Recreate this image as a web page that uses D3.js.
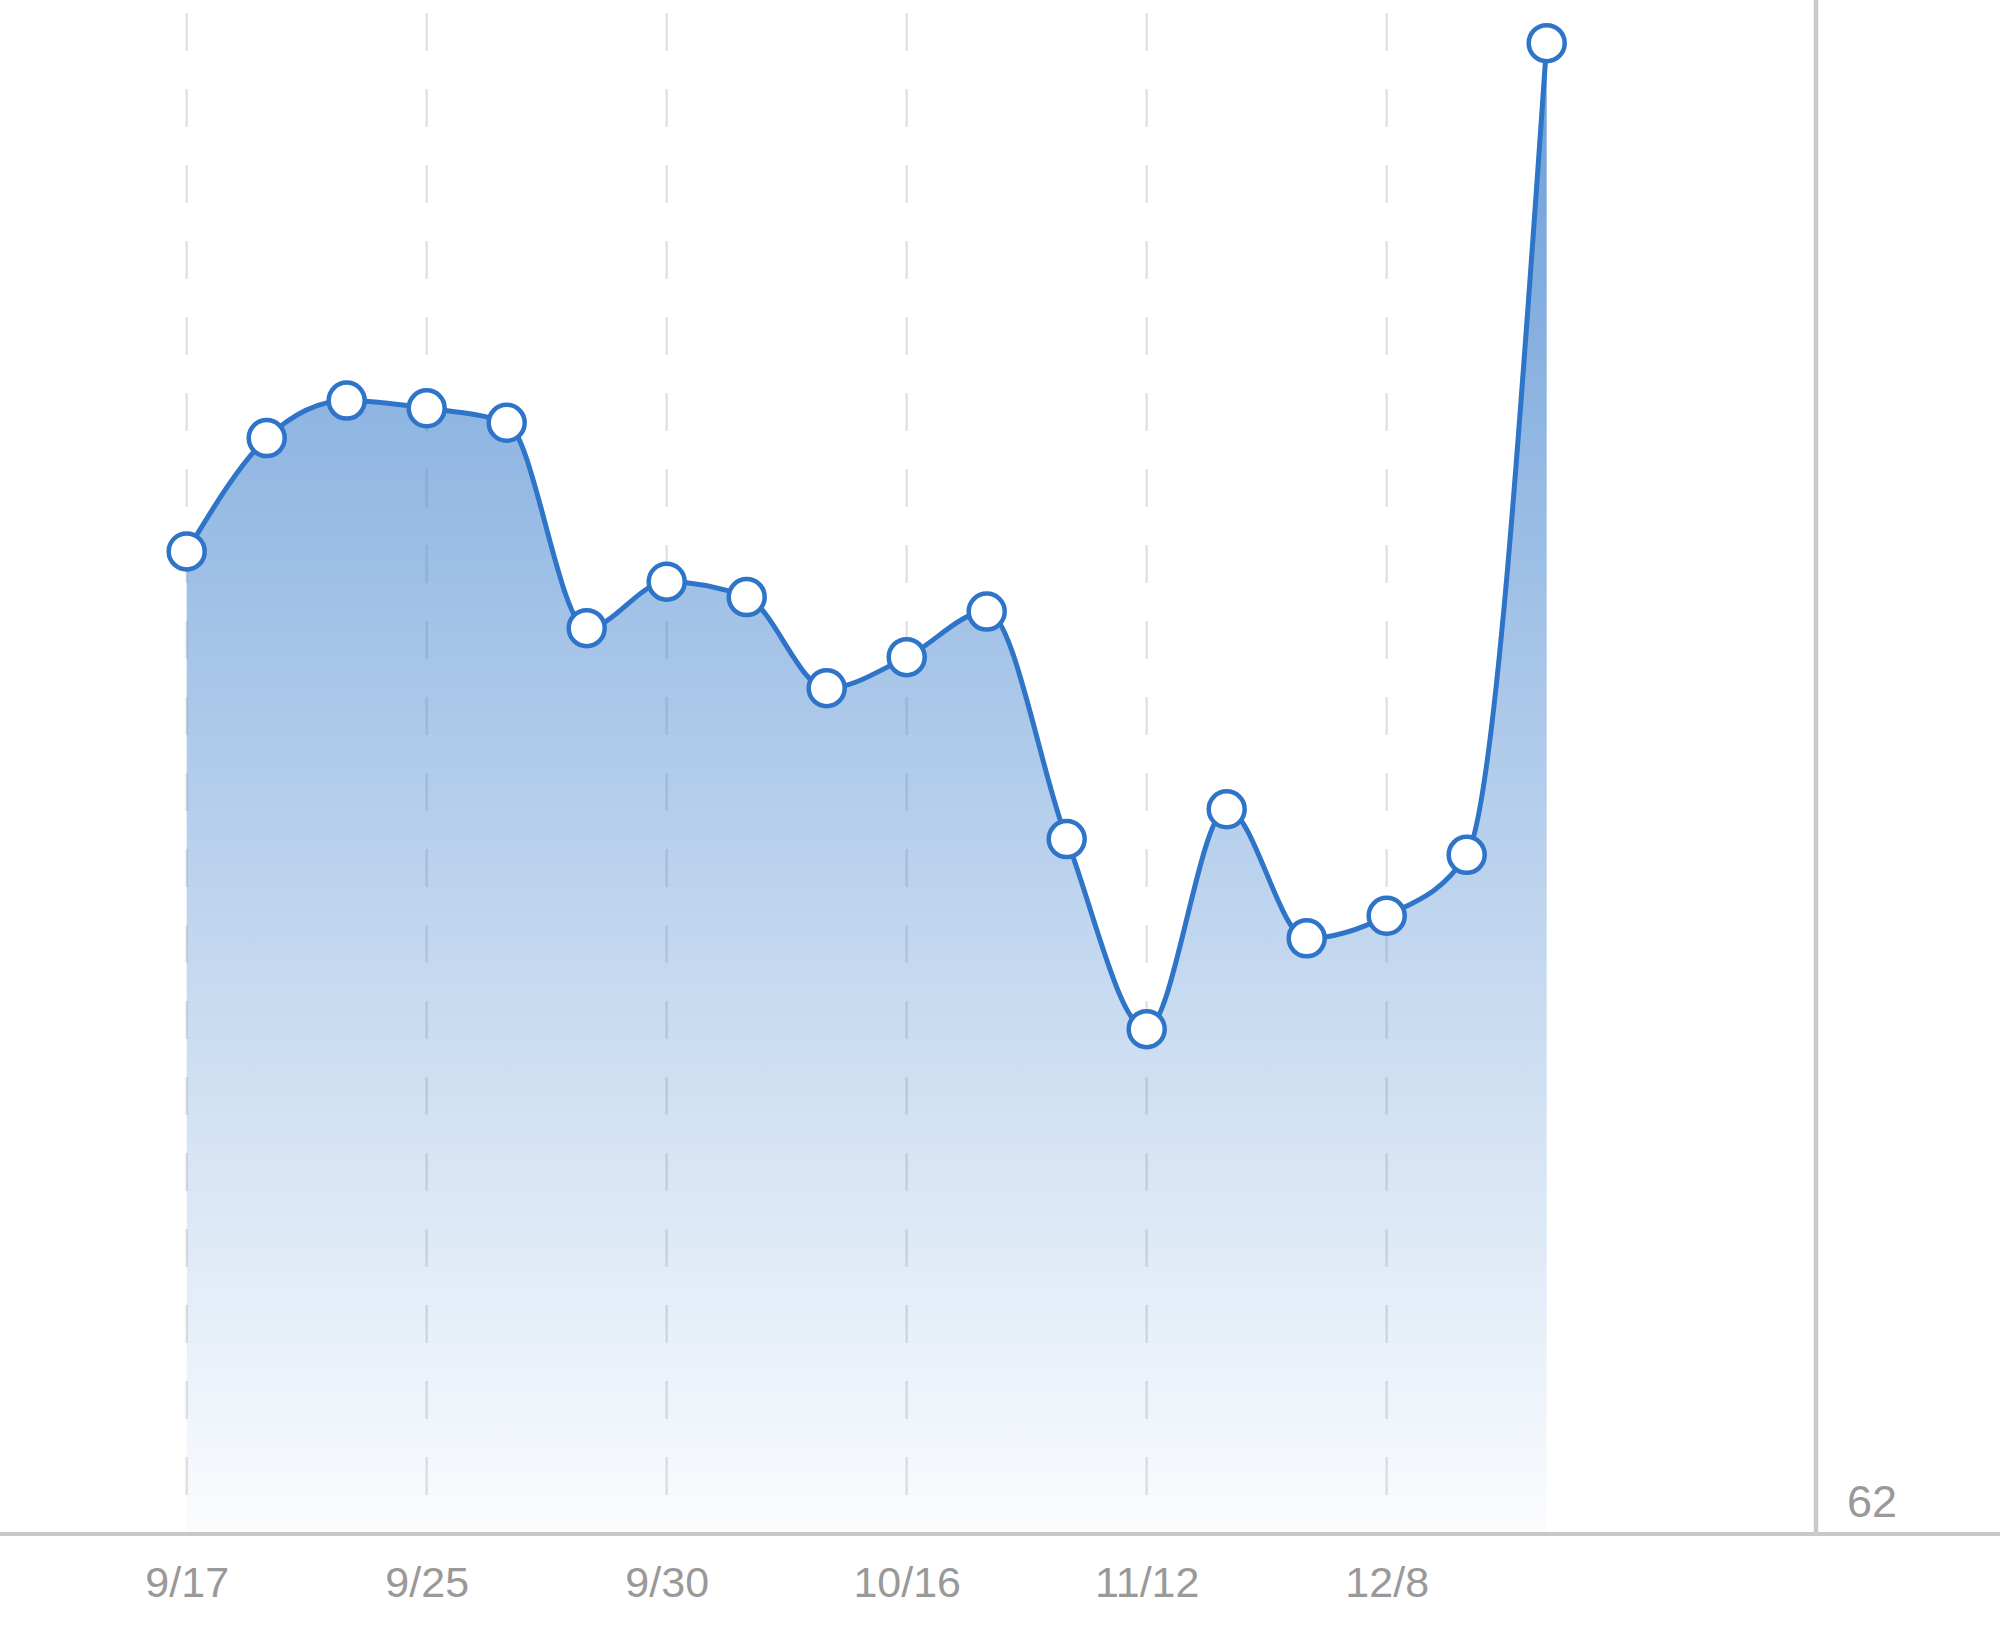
<!DOCTYPE html>
<html>
<head>
<meta charset="utf-8">
<script src="https://cdn.jsdelivr.net/npm/d3@7"></script>
<style>
  html, body { margin: 0; padding: 0; background: #ffffff; }
  svg { display: block; }
</style>
</head>
<body>
<svg id="chart" width="2000" height="1640"></svg>
<script>
// ---- data ----
const categories = ["9/17","9/20","9/22","9/25","9/27","9/28","9/30","10/4","10/10","10/16","10/25","11/3","11/12","11/21","11/29","12/8","12/15","12/22"];
const values = [86.33, 89.14, 90.07, 89.88, 89.52, 84.43, 85.58, 85.20, 82.94, 83.71, 84.84, 79.20, 74.49, 79.94, 76.74, 77.30, 78.81, 98.93];
const tickLabels = ["9/17","9/25","9/30","10/16","11/12","12/8"];
const yTickValues = [62];
const yDomain = [62, 100];

// ---- layout ----
const W = 2000, H = 1640;
const baseY = 1534;
const svg = d3.select("#chart");

const x = d3.scalePoint().domain(categories).range([186.7, 1546.7]);
const y = d3.scaleLinear().domain(yDomain).range([1533, 0]);

const lineColor = "#2e74c8";

const data = categories.map((c, i) => ({c, v: values[i]}));

// gradient
const defs = svg.append("defs");
const grad = defs.append("linearGradient")
  .attr("id", "areaGrad")
  .attr("gradientUnits", "userSpaceOnUse")
  .attr("x1", 0).attr("x2", 0)
  .attr("y1", y(d3.max(values))).attr("y2", y(yDomain[0]));
grad.append("stop").attr("offset", "0%").attr("stop-color", "rgb(44,116,200)").attr("stop-opacity", 0.7);
grad.append("stop").attr("offset", "100%").attr("stop-color", "rgb(44,116,200)").attr("stop-opacity", 0.02);

// grid lines (dashed verticals at labelled categories)
svg.append("g").selectAll("line")
  .data(tickLabels)
  .join("line")
  .attr("x1", d => x(d)).attr("x2", d => x(d))
  .attr("y1", 13).attr("y2", 1533)
  .attr("stroke", "#e3e3e3")
  .attr("stroke-width", 2.5)
  .attr("stroke-dasharray", "38 38");

// area
const area = d3.area()
  .x(d => x(d.c))
  .y0(y(yDomain[0]))
  .y1(d => y(d.v))
  .curve(d3.curveMonotoneX);
svg.append("path").datum(data)
  .attr("d", area)
  .attr("fill", "url(#areaGrad)");

// line
const line = d3.line()
  .x(d => x(d.c))
  .y(d => y(d.v))
  .curve(d3.curveMonotoneX);
svg.append("path").datum(data)
  .attr("d", line)
  .attr("fill", "none")
  .attr("stroke", lineColor)
  .attr("stroke-width", 5)
  .attr("stroke-linejoin", "round");

// x axis
const xAxis = d3.axisBottom(x).tickValues(tickLabels).tickSize(0).tickPadding(0);
const gx = svg.append("g").attr("transform", `translate(0,${baseY})`).call(xAxis);
gx.select(".domain").remove();
gx.selectAll("text")
  .attr("y", 63)
  .attr("dy", 0)
  .attr("fill", "#999999")
  .style("font-family", "'Liberation Sans', Arial, sans-serif")
  .style("font-size", "43px");

// right y axis
const yAxis = d3.axisRight(y).tickValues(yTickValues).tickSize(0).tickPadding(0);
const gy = svg.append("g").attr("transform", "translate(1816,0)").call(yAxis);
gy.select(".domain").remove();
gy.selectAll("text")
  .attr("x", 31)
  .attr("y", -17)
  .attr("dy", 0)
  .attr("fill", "#999999")
  .style("font-family", "'Liberation Sans', Arial, sans-serif")
  .style("font-size", "45px");

// axis lines
svg.append("line")
  .attr("x1", 0).attr("x2", W)
  .attr("y1", baseY).attr("y2", baseY)
  .attr("stroke", "#c8c8c8").attr("stroke-width", 4);
svg.append("line")
  .attr("x1", 1816).attr("x2", 1816)
  .attr("y1", 0).attr("y2", baseY)
  .attr("stroke", "#c8c8c8").attr("stroke-width", 4.5);

// markers
svg.append("g").selectAll("circle")
  .data(data)
  .join("circle")
  .attr("cx", d => x(d.c))
  .attr("cy", d => y(d.v))
  .attr("r", 18)
  .attr("fill", "#ffffff")
  .attr("stroke", lineColor)
  .attr("stroke-width", 4.5);
</script>
</body>
</html>
